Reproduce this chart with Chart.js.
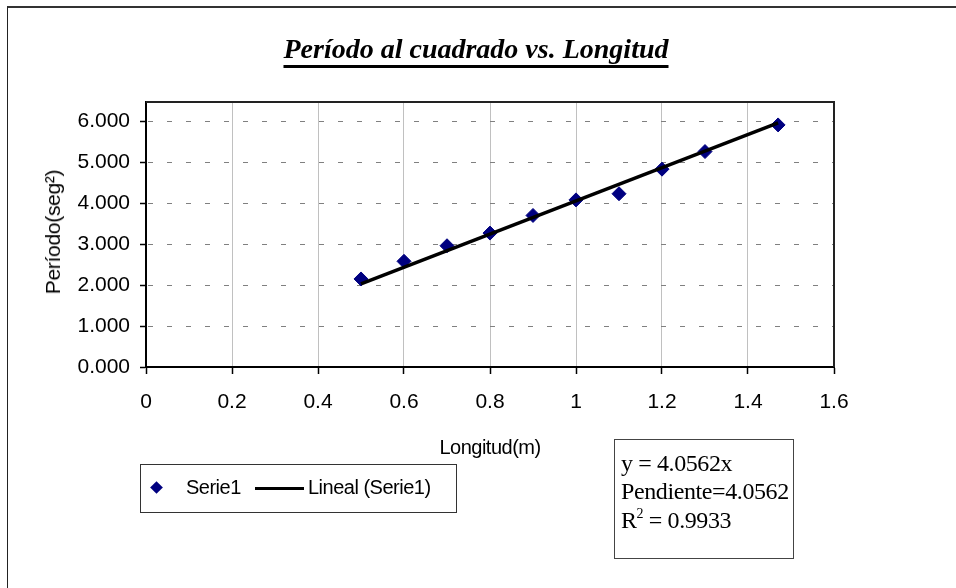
<!DOCTYPE html>
<html>
<head>
<meta charset="utf-8">
<script src="https://cdn.jsdelivr.net/npm/chart.js@4/dist/chart.umd.min.js"></script>
<style>
  body { margin: 0; background: #fff; }
  #wrap { position: relative; width: 956px; height: 588px; overflow: hidden; }
  #frame { position: absolute; left: 7px; top: 6px; width: 1000px; height: 1000px;
           border-left: 1.5px solid #222; border-top: 2px solid #333; }
  canvas { position: absolute; left: 0; top: 0; }
  #title { position: absolute; left: 0; top: 34px; width: 952px; text-align: center;
           font: italic bold 28px "Liberation Serif", "Times New Roman", serif; line-height: 30px;
           text-decoration: underline; text-decoration-thickness: 2.5px; text-underline-offset: 7px; }
  #ytitle { position: absolute; left: 53px; top: 232px; transform: translate(-50%, -50%) rotate(-90deg);
            font: 21px "Liberation Sans", Arial, sans-serif; letter-spacing: -0.3px; white-space: nowrap; }
  #xtitle { position: absolute; left: 490px; top: 436px; transform: translateX(-50%);
            font: 20px "Liberation Sans", Arial, sans-serif; letter-spacing: -0.5px; white-space: nowrap; }
  #legend { position: absolute; left: 140px; top: 464px; width: 315px; height: 47px;
            border: 1px solid #333; font: 20px "Liberation Sans", Arial, sans-serif; letter-spacing: -0.5px; }
  #legend span { position: absolute; top: 11px; white-space: nowrap; }
  #legend .dia { position: absolute; left: 11px; top: 18px; width: 9px; height: 9px; background: #000080; transform: rotate(45deg); }
  #legend .ln { position: absolute; left: 114px; top: 22px; width: 49px; height: 3px; background: #000; }
  #eq { position: absolute; left: 614px; top: 439px; width: 178px; height: 118px; border: 1px solid #444;
        font: 24px "Liberation Serif", "Times New Roman", serif; letter-spacing: -0.4px; }
  #eq div { position: absolute; left: 6px; white-space: nowrap; line-height: 28px; }
  #eq sup { font-size: 14px; vertical-align: 10px; line-height: 0; }
</style>
</head>
<body>
<div id="wrap">
  <div id="frame"></div>
  <canvas id="chart" width="956" height="588"></canvas>
  <div id="title">Período al cuadrado vs. Longitud</div>
  <div id="ytitle">Período(seg²)</div>
  <div id="xtitle">Longitud(m)</div>
  <div id="legend">
    <div class="dia"></div><span style="left:45px">Serie1</span>
    <div class="ln"></div><span style="left:167px">Lineal (Serie1)</span>
  </div>
  <div id="eq">
    <div style="top:9px">y = 4.0562x</div>
    <div style="top:37px">Pendiente=4.0562</div>
    <div style="top:66px">R<sup>2</sup> = 0.9933</div>
  </div>
</div>
<script>
const longitud = [0.5, 0.6, 0.7, 0.8, 0.9, 1.0, 1.1, 1.2, 1.3, 1.47];
const periodo2 = [2.15, 2.58, 2.96, 3.27, 3.70, 4.08, 4.23, 4.83, 5.26, 5.91];
const trendX = [0.5, 1.47];
const trendY = [2.028, 5.963];
const xTickLabels = ["0", "0.2", "0.4", "0.6", "0.8", "1", "1.2", "1.4", "1.6"];
const yTickLabels = ["0.000", "1.000", "2.000", "3.000", "4.000", "5.000", "6.000"];

const tickFont = { family: "'Liberation Sans', Arial, sans-serif", size: 21 };

// frame on top and right of the plot area
const plotFrame = {
  id: "plotFrame",
  beforeDatasetsDraw(chart) {
    const { ctx, chartArea: a } = chart;
    ctx.save();
    ctx.strokeStyle = "#222";
    ctx.lineWidth = 2;
    ctx.beginPath();
    ctx.moveTo(a.left, a.top);
    ctx.lineTo(a.right, a.top);
    ctx.lineTo(a.right, a.bottom);
    ctx.stroke();
    ctx.restore();
  },
};

new Chart(document.getElementById("chart"), {
  type: "scatter",
  data: {
    datasets: [
      {
        label: "Serie1",
        data: longitud.map((x, i) => ({ x, y: periodo2[i] })),
        pointStyle: "rectRot",
        pointRadius: 7,
        pointBackgroundColor: "#000080",
        pointBorderColor: "#000080",
        pointBorderWidth: 1,
        order: 1,
      },
      {
        label: "Lineal (Serie1)",
        type: "line",
        data: trendX.map((x, i) => ({ x, y: trendY[i] })),
        borderColor: "#000",
        borderWidth: 3.5,
        pointRadius: 0,
        fill: false,
        order: 0,
      },
    ],
  },
  options: {
    responsive: false,
    animation: false,
    layout: { padding: { left: 0, right: 122, top: 102, bottom: 171 } },
    plugins: { legend: { display: false }, title: { display: false }, tooltip: { enabled: false } },
    scales: {
      x: {
        type: "linear",
        min: 0,
        max: 1.6,
        afterFit: (s) => { s.height = 50; },
        border: { color: "#000", width: 2 },
        grid: { color: "#c0c0c0", lineWidth: 1, tickLength: 7, tickColor: "#000", tickWidth: 1.5 },
        ticks: {
          stepSize: 0.2,
          color: "#000",
          font: tickFont,
          padding: 16,
          maxRotation: 0,
          callback: (v, i) => xTickLabels[i],
        },
      },
      y: {
        type: "linear",
        min: 0,
        max: 6.47,
        afterFit: (s) => { s.width = 146; },
        border: { color: "#000", width: 2, dash: [5, 14], dashOffset: 18 },
        grid: {
          color: "#808080",
          lineWidth: 1,
          tickLength: 6,
          tickColor: "#000",
          tickWidth: 1.5,
          tickBorderDash: [],
        },
        ticks: {
          stepSize: 1,
          includeBounds: false,
          color: "#000",
          font: tickFont,
          padding: 10,
          callback: (v, i) => yTickLabels[i],
        },
      },
    },
  },
  plugins: [plotFrame],
});
</script>
</body>
</html>
